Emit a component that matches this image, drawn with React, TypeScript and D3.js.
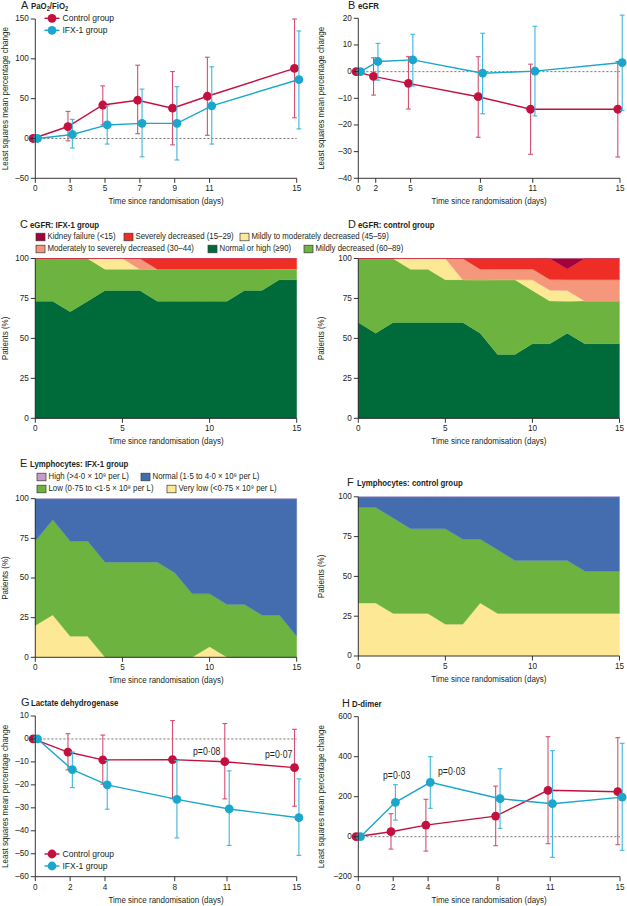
import React from "react";
import * as d3 from "d3";

const FONT = '"Liberation Sans", Arial, sans-serif';
const SX = 0.87; // horizontal compression to mimic the narrow journal face
const INK = "#231f20";
const CONTROL = "#c4103f";
const IFX = "#1ba6cc";
const CONTROL_BAR = "#d44f72";
const IFX_BAR = "#3db6d8";

// ---------- Panel A: PaO2/FiO2 ----------
const aDays = [0, 3, 5, 7, 9, 11, 15];
const aControl = [0, 15, 42, 48, 38, 53, 88];
const aControlLo = [null, -3, 17, 6, -8, 4, 26];
const aControlHi = [null, 34, 66, 92, 84, 102, 150];
const aIfx = [0, 5, 17, 19, 19, 41, 74];
const aIfxLo = [null, -12, -7, -23, -27, -7, 12];
const aIfxHi = [null, 24, 41, 62, 65, 90, 135];
const aYTicks = [-50, 0, 50, 100, 150];

// ---------- Panel B: eGFR ----------
const bDays = [0, 2, 5, 8, 11, 15];
const bControl = [0, -1.8, -4.4, -9.4, -14.1, -14.1];
const bControlLo = [null, -8.8, -14, -24.6, -31, -32];
const bControlHi = [null, 5.2, 5.6, 5.6, 2.8, 3.8];
const bIfx = [0, 3.8, 4.4, -0.6, 0.2, 3.4];
const bIfxLo = [null, -3.2, -5.4, -15.8, -16.6, -14.5];
const bIfxHi = [null, 10.6, 14, 14.4, 17, 21.2];
const bYTicks = [-40, -30, -20, -10, 0, 10, 20];

// ---------- Panel G: Lactate dehydrogenase ----------
const gDays = [0, 2, 4, 8, 11, 15];
const gControl = [0, -5.7, -9.1, -9, -9.9, -12.5];
const gControlLo = [null, -13.5, -19.7, -26, -26.1, -29.3];
const gControlHi = [null, 2.3, 1.7, 8, 6.7, 4.2];
const gIfx = [0, -13.4, -20, -26.3, -30.5, -34.3];
const gIfxLo = [null, -21.2, -30.6, -43.1, -46.4, -50.7];
const gIfxHi = [null, -5.7, -9.4, -9.4, -13.9, -17.4];
const gYTicks = [-60, -50, -40, -30, -20, -10, 0, 10];

// ---------- Panel H: D-dimer ----------
const hDays = [0, 2, 4, 8, 11, 15];
const hControl = [0, 25, 58, 103, 232, 225];
const hControlLo = [null, -62, -72, -45, -35, -40];
const hControlHi = [null, 115, 187, 253, 500, 495];
const hIfx = [0, 172, 272, 190, 165, 198];
const hIfxLo = [null, 83, 142, 42, -103, -68];
const hIfxHi = [null, 260, 400, 340, 430, 467];
const hYTicks = [-200, 0, 200, 400, 600];

// ---------- Stacked panels (days 0..15) ----------
const stackDays = [0, 1, 2, 3, 4, 5, 6, 7, 8, 9, 10, 11, 12, 13, 14, 15];
const pctTicks = [0, 25, 50, 75, 100];
const dayTicks = [0, 5, 10, 15];

// eGFR categories
const egfrKeys = ["normal", "mild", "mildMod", "modSev", "severe", "kidney"];
const egfrLabels = {
  kidney: "Kidney failure (<15)",
  severe: "Severely decreased (15–29)",
  mildMod: "Mildly to moderately decreased (45–59)",
  modSev: "Moderately to severely decreased (30–44)",
  normal: "Normal or high (≥90)",
  mild: "Mildly decreased (60–89)",
};
const egfrColors = {
  normal: "#006b3a",
  mild: "#6cb33f",
  mildMod: "#fde896",
  modSev: "#f4977b",
  severe: "#ee2e26",
  kidney: "#a3023a",
};
// C: IFX-1 group
const cNormal = [73.3, 73.3, 66.7, 73.3, 80, 80, 80, 73.3, 73.3, 73.3, 73.3, 73.3, 80, 80, 86.7, 86.7];
const cMild = [26.7, 26.7, 33.3, 26.7, 13.3, 13.3, 13.3, 20, 20, 20, 20, 20, 13.3, 13.3, 6.7, 6.7];
const cMildMod = [0, 0, 0, 0, 6.7, 6.7, 0, 0, 0, 0, 0, 0, 0, 0, 0, 0];
const cModSev = [0, 0, 0, 0, 0, 0, 6.7, 0, 0, 0, 0, 0, 0, 0, 0, 0];
const cSevere = [0, 0, 0, 0, 0, 0, 0, 6.7, 6.7, 6.7, 6.7, 6.7, 6.7, 6.7, 6.7, 6.7];
const cKidney = [0, 0, 0, 0, 0, 0, 0, 0, 0, 0, 0, 0, 0, 0, 0, 0];
// D: control group
const dNormal = [60, 53.3, 60, 60, 60, 60, 60, 53.3, 40, 40, 46.7, 46.7, 53.3, 46.7, 46.7, 46.7];
const dMild = [40, 46.7, 40, 33.3, 33.3, 26.7, 26.7, 33.3, 46.7, 46.7, 33.3, 26.7, 20, 26.7, 26.7, 26.7];
const dMildMod = [0, 0, 0, 6.7, 6.7, 13.3, 0, 0, 0, 0, 6.7, 6.7, 6.7, 0, 0, 0];
const dModSev = [0, 0, 0, 0, 0, 0, 13.3, 6.7, 6.7, 6.7, 6.7, 6.7, 6.7, 13.3, 13.3, 13.3];
const dSevere = [0, 0, 0, 0, 0, 0, 0, 6.7, 6.7, 6.7, 6.7, 13.3, 6.7, 13.3, 13.3, 13.3];
const dKidney = [0, 0, 0, 0, 0, 0, 0, 0, 0, 0, 0, 0, 6.7, 0, 0, 0];

// Lymphocyte categories
const lymphKeys = ["veryLow", "low", "normal", "high"];
const lymphLabels = {
  high: "High (>4·0 × 10⁹ per L)",
  normal: "Normal (1·5 to 4·0 × 10⁹ per L)",
  low: "Low (0·75 to <1·5 × 10⁹ per L)",
  veryLow: "Very low (<0·75 × 10⁹ per L)",
};
const lymphColors = {
  high: "#c89bc9",
  normal: "#436daf",
  low: "#6cb33f",
  veryLow: "#fde896",
};
// E: IFX-1 group
const eVeryLow = [20, 26.7, 13.3, 13.3, 0, 0, 0, 0, 0, 0, 6.7, 0, 0, 0, 0, 0];
const eLow = [53.3, 60, 60, 60, 60, 60, 60, 60, 53.3, 40, 33.3, 33.3, 33.3, 26.7, 26.7, 13.3];
const eNormal = [26.7, 13.3, 26.7, 26.7, 40, 40, 40, 40, 46.7, 60, 60, 66.7, 66.7, 73.3, 73.3, 86.7];
const eHigh = [0, 0, 0, 0, 0, 0, 0, 0, 0, 0, 0, 0, 0, 0, 0, 0];
// F: control group
const fVeryLow = [33.3, 33.3, 26.7, 26.7, 26.7, 20, 20, 33.3, 26.7, 26.7, 26.7, 26.7, 26.7, 26.7, 26.7, 26.7];
const fLow = [60, 60, 60, 53.3, 53.3, 60, 53.3, 40, 40, 33.3, 33.3, 33.3, 33.3, 26.7, 26.7, 26.7];
const fNormal = [6.7, 6.7, 13.3, 20, 20, 20, 26.7, 26.7, 33.3, 40, 40, 40, 40, 46.7, 46.7, 46.7];
const fHigh = [0, 0, 0, 0, 0, 0, 0, 0, 0, 0, 0, 0, 0, 0, 0, 0];

const X_LABEL = "Time since randomisation (days)";
const Y_LABEL_LS = "Least squares mean percentage change";
const Y_LABEL_PCT = "Patients (%)";

type Box = { x0: number; x1: number; yTop: number; yBot: number };

function T({ x, y, size = 9, anchor = "start", weight = "normal", rotate = false, sx = SX, children }: any) {
  return (
    <text
      transform={`translate(${x},${y})${rotate ? " rotate(-90)" : ""} scale(${sx},1)`}
      textAnchor={anchor}
      dominantBaseline="middle"
      fontSize={size}
      fontWeight={weight}
      fontFamily={FONT}
      fill={INK}
    >
      {children}
    </text>
  );
}

function Title({ x, y, letter, text }: { x: number; y: number; letter: string; text: React.ReactNode }) {
  return (
    <g>
      <T x={x} y={y} size={11.5} sx={0.95}>{letter}</T>
      <T x={x + 10} y={y + 0.5} size={9} weight="bold">{text}</T>
    </g>
  );
}

function Axes({ box, xScale, yScale, xTicks, yTicks, yLabel, yLabelX }: any) {
  const { x0, x1, yTop, yBot } = box;
  const yMin = yScale.range()[0];
  const yMax = yScale.range()[1];
  const xr = xScale.range();
  return (
    <g>
      <line x1={x0} x2={x0} y1={yMax} y2={yMin} stroke={INK} strokeWidth={0.9} />
      <line x1={x0} x2={xr[xr.length - 1]} y1={yBot} y2={yBot} stroke={INK} strokeWidth={0.9} />
      {yTicks.map((t: number) => (
        <g key={"y" + t}>
          <line x1={x0 - 4.5} x2={x0} y1={yScale(t)} y2={yScale(t)} stroke={INK} strokeWidth={0.9} />
          <T x={x0 - 6.5} y={yScale(t)} anchor="end" size={9.4}>
            {t < 0 ? "–" + Math.abs(t) : String(t)}
          </T>
        </g>
      ))}
      {xTicks.map((t: number) => (
        <g key={"x" + t}>
          <line x1={xScale(t)} x2={xScale(t)} y1={yBot} y2={yBot + 4.5} stroke={INK} strokeWidth={0.9} />
          <T x={xScale(t)} y={yBot + 10.5} anchor="middle" size={9.4}>{t}</T>
        </g>
      ))}
      <T x={(x0 + x1) / 2} y={yBot + 23.5} anchor="middle" size={9.2}>{X_LABEL}</T>
      <T x={yLabelX} y={(yTop + yBot) / 2} anchor="middle" size={9.2} rotate>{yLabel}</T>
    </g>
  );
}

function Series({ days, vals, lo, hi, xScale, yScale, color, barColor, dx }: any) {
  const line = d3
    .line<number>()
    .x((_, i) => xScale(days[i]) + dx)
    .y((v) => yScale(v));
  return (
    <g>
      {days.map((d: number, i: number) =>
        lo[i] == null ? null : (
          <g key={"e" + i} stroke={barColor} strokeWidth={1.1}>
            <line x1={xScale(d) + dx} x2={xScale(d) + dx} y1={yScale(lo[i])} y2={yScale(hi[i])} />
            <line x1={xScale(d) + dx - 2.4} x2={xScale(d) + dx + 2.4} y1={yScale(lo[i])} y2={yScale(lo[i])} />
            <line x1={xScale(d) + dx - 2.4} x2={xScale(d) + dx + 2.4} y1={yScale(hi[i])} y2={yScale(hi[i])} />
          </g>
        )
      )}
      <path d={line(vals) || ""} fill="none" stroke={color} strokeWidth={1.4} />
      {days.map((d: number, i: number) => (
        <circle key={"c" + i} cx={xScale(d) + dx} cy={yScale(vals[i])} r={4.4} fill={color} />
      ))}
    </g>
  );
}

function LinePanel({ box, xTicks, xFrac, yDomain, yTicks, days, ctl, ctlLo, ctlHi, ifx, ifxLo, ifxHi, yLabelX, children }: any) {
  const { x0, x1, yTop, yBot } = box;
  const xScale = d3.scaleLinear().domain(xTicks).range(xFrac.map((f: number) => x0 + f * (x1 - x0)));
  const yScale = d3.scaleLinear().domain(yDomain).range([yBot, yTop]);
  return (
    <g>
      <line x1={x0} x2={x1} y1={yScale(0)} y2={yScale(0)} stroke="#5a5a5a" strokeWidth={0.8} strokeDasharray="2.2,1.8" />
      <Series days={days} vals={ctl} lo={ctlLo} hi={ctlHi} xScale={xScale} yScale={yScale} color={CONTROL} barColor={CONTROL_BAR} dx={-2.2} />
      <Series days={days} vals={ifx} lo={ifxLo} hi={ifxHi} xScale={xScale} yScale={yScale} color={IFX} barColor={IFX_BAR} dx={2.2} />
      <Axes box={box} xScale={xScale} yScale={yScale} xTicks={xTicks} yTicks={yTicks} yLabel={Y_LABEL_LS} yLabelX={yLabelX} />
      {children}
    </g>
  );
}

function LineLegend({ x, y }: { x: number; y: number }) {
  const items = [
    { label: "Control group", color: CONTROL },
    { label: "IFX-1 group", color: IFX },
  ];
  return (
    <g>
      {items.map((it, i) => (
        <g key={it.label}>
          <line x1={x - 7.5} x2={x + 7.5} y1={y + i * 12} y2={y + i * 12} stroke={it.color} strokeWidth={1.4} />
          <circle cx={x} cy={y + i * 12} r={4.4} fill={it.color} />
          <T x={x + 10.5} y={y + i * 12} size={9.8}>{it.label}</T>
        </g>
      ))}
    </g>
  );
}

function StackPanel({ box, keys, colors, series, yLabelX }: any) {
  const { x0, x1, yTop, yBot } = box;
  const xScale = d3.scaleLinear().domain([0, 15]).range([x0, x1]);
  const yScale = d3.scaleLinear().domain([0, 100]).range([yBot, yTop]);
  const rows = stackDays.map((d, i) => {
    const r: any = { day: d };
    keys.forEach((k: string) => (r[k] = series[k][i]));
    return r;
  });
  const stacked = d3.stack<any>().keys(keys)(rows);
  const area = d3
    .area<any>()
    .x((p) => xScale(p.data.day))
    .y0((p) => yScale(Math.min(100, p[0])))
    .y1((p) => yScale(Math.min(100, p[1])));
  return (
    <g>
      {stacked.map((s: any) => (
        <path key={s.key} d={area(s) || ""} fill={colors[s.key]} stroke={colors[s.key]} strokeWidth={0.3} />
      ))}
      <Axes box={box} xScale={xScale} yScale={yScale} xTicks={dayTicks} yTicks={pctTicks} yLabel={Y_LABEL_PCT} yLabelX={yLabelX} />
    </g>
  );
}

function SwatchLegend({ items, colors, labels }: any) {
  return (
    <g>
      {items.map((it: any) => (
        <g key={it.key}>
          <rect x={it.x} y={it.y - 3.8} width={9} height={7.6} fill={colors[it.key]} stroke="#3a3a3a" strokeWidth={0.7} />
          <T x={it.x + 11.5} y={it.y} size={9}>{labels[it.key]}</T>
        </g>
      ))}
    </g>
  );
}

export default function App() {
  const boxA: Box = { x0: 35.3, x1: 296.7, yTop: 19, yBot: 178.3 };
  const boxB: Box = { x0: 358.3, x1: 620, yTop: 18.3, yBot: 178.3 };
  const boxC: Box = { x0: 35.3, x1: 296.7, yTop: 258.5, yBot: 418.3 };
  const boxD: Box = { x0: 358.3, x1: 619.5, yTop: 258.5, yBot: 418.3 };
  const boxE: Box = { x0: 35.3, x1: 296.7, yTop: 498.7, yBot: 657.3 };
  const boxF: Box = { x0: 358.3, x1: 619.5, yTop: 496.8, yBot: 656 };
  const boxG: Box = { x0: 35.3, x1: 296.7, yTop: 716, yBot: 876.7 };
  const boxH: Box = { x0: 358.3, x1: 620, yTop: 716.7, yBot: 876.7 };

  const linearFrac = (ticks: number[]) => ticks.map((t) => t / 15);

  return (
    <svg width={627} height={906} style={{ position: "absolute", left: 0, top: 0, background: "#fff" }}>
      <rect width={627} height={906} fill="#fff" />

      <Title x={21} y={6} letter="A" text={<tspan>PaO<tspan fontSize={6.5} dy={2}>2</tspan><tspan dy={-2}>/FiO</tspan><tspan fontSize={6.5} dy={2}>2</tspan></tspan>} />
      <LinePanel
        box={boxA}
        xTicks={aDays}
        xFrac={[0, 2 / 15, 4 / 15, 6 / 15, 8 / 15, 10 / 15, 1]}
        yDomain={[-50, 150]}
        yTicks={aYTicks}
        days={aDays}
        ctl={aControl} ctlLo={aControlLo} ctlHi={aControlHi}
        ifx={aIfx} ifxLo={aIfxLo} ifxHi={aIfxHi}
        yLabelX={6}
      >
        <LineLegend x={52} y={18.3} />
      </LinePanel>

      <Title x={348} y={6} letter="B" text="eGFR" />
      <LinePanel
        box={boxB}
        xTicks={bDays}
        xFrac={[0, 1 / 15, 3 / 15, 7 / 15, 10 / 15, 1]}
        yDomain={[-40, 20]}
        yTicks={bYTicks}
        days={bDays}
        ctl={bControl} ctlLo={bControlLo} ctlHi={bControlHi}
        ifx={bIfx} ifxLo={bIfxLo} ifxHi={bIfxHi}
        yLabelX={322}
      />

      <Title x={20} y={225} letter="C" text="eGFR: IFX-1 group" />
      <SwatchLegend
        colors={egfrColors}
        labels={egfrLabels}
        items={[
          { key: "kidney", x: 36, y: 237 },
          { key: "severe", x: 124, y: 237 },
          { key: "mildMod", x: 240, y: 237 },
          { key: "modSev", x: 36, y: 249 },
          { key: "normal", x: 208, y: 249 },
          { key: "mild", x: 304, y: 249 },
        ]}
      />
      <StackPanel
        box={boxC}
        keys={egfrKeys}
        colors={egfrColors}
        series={{ normal: cNormal, mild: cMild, mildMod: cMildMod, modSev: cModSev, severe: cSevere, kidney: cKidney }}
        yLabelX={6}
      />

      <Title x={348} y={225} letter="D" text="eGFR: control group" />
      <StackPanel
        box={boxD}
        keys={egfrKeys}
        colors={egfrColors}
        series={{ normal: dNormal, mild: dMild, mildMod: dMildMod, modSev: dModSev, severe: dSevere, kidney: dKidney }}
        yLabelX={322}
      />

      <Title x={20} y={464} letter="E" text="Lymphocytes: IFX-1 group" />
      <SwatchLegend
        colors={lymphColors}
        labels={lymphLabels}
        items={[
          { key: "high", x: 37, y: 477 },
          { key: "normal", x: 141, y: 477 },
          { key: "low", x: 37, y: 489 },
          { key: "veryLow", x: 167, y: 489 },
        ]}
      />
      <StackPanel
        box={boxE}
        keys={lymphKeys}
        colors={lymphColors}
        series={{ veryLow: eVeryLow, low: eLow, normal: eNormal, high: eHigh }}
        yLabelX={6}
      />

      <Title x={347} y={483} letter="F" text="Lymphocytes: control group" />
      <StackPanel
        box={boxF}
        keys={lymphKeys}
        colors={lymphColors}
        series={{ veryLow: fVeryLow, low: fLow, normal: fNormal, high: fHigh }}
        yLabelX={322}
      />

      <Title x={21} y={703} letter="G" text="Lactate dehydrogenase" />
      <LinePanel
        box={boxG}
        xTicks={gDays}
        xFrac={linearFrac(gDays)}
        yDomain={[-60, 10]}
        yTicks={gYTicks}
        days={gDays}
        ctl={gControl} ctlLo={gControlLo} ctlHi={gControlHi}
        ifx={gIfx} ifxLo={gIfxLo} ifxHi={gIfxHi}
        yLabelX={6}
      >
        <LineLegend x={52} y={854} />
        <T x={193} y={752.7} size={10}>p=0·08</T>
        <T x={265} y={755} size={10}>p=0·07</T>
      </LinePanel>

      <Title x={342} y={704} letter="H" text="D-dimer" />
      <LinePanel
        box={boxH}
        xTicks={hDays}
        xFrac={linearFrac(hDays)}
        yDomain={[-200, 600]}
        yTicks={hYTicks}
        days={hDays}
        ctl={hControl} ctlLo={hControlLo} ctlHi={hControlHi}
        ifx={hIfx} ifxLo={hIfxLo} ifxHi={hIfxHi}
        yLabelX={322}
      >
        <T x={383} y={776} size={10}>p=0·03</T>
        <T x={438} y={772.7} size={10}>p=0·03</T>
      </LinePanel>
    </svg>
  );
}
